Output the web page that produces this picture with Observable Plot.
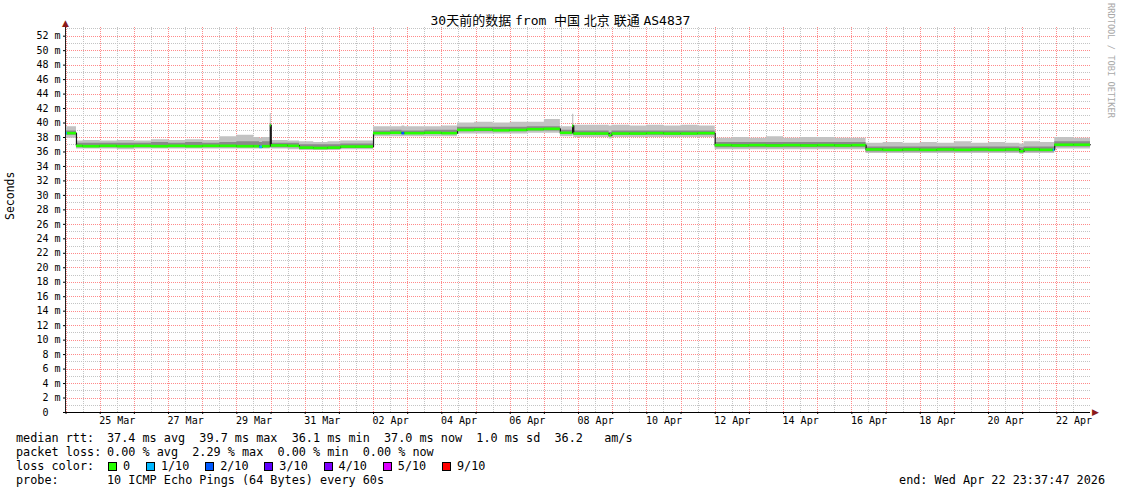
<!DOCTYPE html>
<html><head><meta charset="utf-8">
<script src="https://cdn.jsdelivr.net/npm/d3@7"></script>
<script src="https://cdn.jsdelivr.net/npm/@observablehq/plot@0.6"></script>
<style>
body{margin:0;background:#fff;font-family:"DejaVu Sans Mono","Noto Sans CJK SC",monospace;color:#000;}
#wrap{position:relative;width:1121px;height:494px;overflow:hidden;background:#fff;}
#chart{position:absolute;left:0;top:0;}
#title{position:absolute;left:0;top:13px;width:1121px;text-align:center;font-size:13px;line-height:16px;white-space:pre;word-spacing:-4px;font-family:"DejaVu Sans Mono","Noto Sans CJK SC",monospace;}
#legend{position:absolute;left:16px;top:431px;width:1089px;font-size:11.8px;line-height:14px;white-space:pre;}
#legend .row{height:14px;position:relative;}
#legend .lab{display:inline-block;width:91px;}
#legend .box{display:inline-block;width:7px;height:7px;border:1px solid #000;vertical-align:-1px;margin-right:6px;}
#legend .item{display:inline-block;margin-right:15.8px;}
#legend .first{margin-left:1px;}
#end{position:absolute;right:0;top:0;}
</style>
</head><body>
<div id="wrap">
  <div id="chart"></div>
  <div id="title"></div>
  <div id="legend"></div>
</div>
<script>
// ---- data ----
const titleText = "30天前的数据 from  中国 北京 联通 AS4837";
const startTime = "2026-03-23T23:37:47";
const endTime = "2026-04-22T23:37:47";

const times = [
 "2026-03-23T23:37","2026-03-24T01:00","2026-03-24T07:20","2026-03-24T12:00","2026-03-25T00:00",
 "2026-03-25T12:00","2026-03-26T00:00","2026-03-26T12:00","2026-03-27T00:00","2026-03-27T12:00",
 "2026-03-28T00:00","2026-03-28T12:00","2026-03-29T00:00","2026-03-29T12:00","2026-03-29T16:00",
 "2026-03-29T18:00","2026-03-29T23:30","2026-03-30T00:10","2026-03-30T12:00","2026-03-30T20:00",
 "2026-03-31T06:00","2026-03-31T16:00","2026-04-01T01:00","2026-04-01T12:00","2026-04-02T00:00",
 "2026-04-02T12:00","2026-04-02T20:00","2026-04-02T22:00","2026-04-03T12:00","2026-04-04T00:00",
 "2026-04-04T11:00","2026-04-04T23:00","2026-04-05T12:00","2026-04-06T00:00","2026-04-06T12:00",
 "2026-04-07T00:00","2026-04-07T11:15","2026-04-07T19:50","2026-04-07T20:40","2026-04-08T12:00",
 "2026-04-08T21:30","2026-04-08T23:30","2026-04-09T12:00","2026-04-10T00:00","2026-04-10T12:00",
 "2026-04-11T00:00","2026-04-11T12:00","2026-04-12T00:00","2026-04-12T12:00","2026-04-13T00:00",
 "2026-04-13T12:00","2026-04-14T00:00","2026-04-14T12:00","2026-04-15T00:00","2026-04-15T12:00",
 "2026-04-16T00:00","2026-04-16T10:00","2026-04-16T22:00","2026-04-17T12:00","2026-04-18T00:00",
 "2026-04-18T12:00","2026-04-19T00:00","2026-04-19T12:00","2026-04-20T00:00","2026-04-20T12:00",
 "2026-04-20T22:00","2026-04-21T01:00","2026-04-21T12:00","2026-04-21T21:30","2026-04-21T22:30",
 "2026-04-22T12:00"
];
const median = [
 38.6,38.6,36.85,36.8,36.85, 36.8,36.85,36.8,36.85,36.8,
 36.85,36.85,36.8,36.8,36.7, 36.8,39.7,36.9,36.85,36.6,
 36.55,36.6,36.75,36.75,38.6, 38.65,38.6,38.6,38.65,38.6,
 39.05,39.1,39.0,39.05,39.15, 39.2,38.65,39.6,38.55,38.55,
 38.3,38.55,38.55,38.6,38.55, 38.55,38.6,36.95,36.9,36.95,
 36.9,36.95,36.9,36.95,36.9, 36.95,36.35,36.3,36.35,36.3,
 36.35,36.3,36.35,36.3,36.35, 36.1,36.35,36.3,36.3,37.0,
 37.0
];
const smokeMin = [
 37.9,37.9,36.4,36.4,36.4, 36.3,36.4,36.4,36.4,36.4,
 36.4,36.4,36.4,36.4,36.4, 36.4,36.5,36.4,36.3,36.2,
 36.2,36.2,36.3,36.3,38.1, 38.1,38.1,38.1,38.1,38.1,
 38.5,38.5,38.5,38.5,38.6, 38.6,38.1,38.2,38.0,38.0,
 37.8,38.0,38.0,38.0,38.0, 38.0,38.0,36.3,36.3,36.3,
 36.3,36.3,36.3,36.3,36.3, 36.3,35.8,35.8,35.8,35.8,
 35.8,35.8,35.8,35.8,35.8, 35.7,35.8,35.8,35.8,36.4,
 36.4
];
const coreLow = [
 38.3,38.3,36.6,36.6,36.6, 36.6,36.6,36.6,36.6,36.6,
 36.6,36.6,36.6,36.6,36.6, 36.6,37.0,36.6,36.6,36.4,
 36.4,36.4,36.5,36.5,38.4, 38.4,38.4,38.4,38.4,38.4,
 38.8,38.8,38.8,38.8,38.9, 38.9,38.4,38.6,38.3,38.3,
 38.1,38.3,38.3,38.3,38.3, 38.3,38.3,36.6,36.6,36.6,
 36.6,36.6,36.6,36.6,36.6, 36.6,36.0,36.0,36.0,36.0,
 36.0,36.0,36.0,36.0,36.0, 35.9,36.0,36.0,36.0,36.7,
 36.7
];
const coreHigh = [
 38.9,38.9,37.2,37.2,37.2, 37.2,37.2,37.3,37.2,37.3,
 37.2,37.3,37.4,37.4,37.3, 37.4,39.9,37.2,37.2,37.0,
 37.0,37.0,37.1,37.1,38.9, 39.0,38.9,38.9,39.0,39.0,
 39.4,39.4,39.4,39.4,39.5, 39.5,39.0,39.7,38.9,38.9,
 38.7,38.9,38.9,38.9,38.9, 38.9,38.9,37.3,37.3,37.3,
 37.3,37.3,37.3,37.3,37.3, 37.3,36.7,36.7,36.7,36.7,
 36.7,36.7,36.7,36.7,36.7, 36.6,36.7,36.7,36.7,37.4,
 37.4
];
const smokeMax = [
 39.5,39.5,37.5,37.6,37.5, 37.6,37.5,37.7,37.6,37.7,
 37.6,38.1,38.3,38.0,37.9, 38.0,41.3,37.6,37.5,37.4,
 37.3,37.4,37.5,37.5,39.5, 39.5,39.6,39.5,39.5,39.6,
 40.0,40.1,40.0,40.1,40.1, 40.5,39.5,41.2,39.7,39.7,
 39.6,39.7,39.6,39.7,39.6, 39.7,39.6,37.9,38.0,37.9,
 38.1,37.9,38.0,38.0,37.9, 37.9,37.2,37.3,37.2,37.3,
 37.2,37.4,37.2,37.3,37.2, 37.1,37.4,37.3,37.3,38.0,
 37.9
];
const lossIdx = [
 1,0,0,0,0, 0,0,0,0,0,
 0,0,0,0,1, 0,0,0,0,0,
 0,0,0,0,0, 0,2,0,0,0,
 0,0,0,0,0, 0,0,0,0,0,
 0,0,0,0,0, 0,0,0,0,0,
 0,0,0,0,0, 0,0,0,0,0,
 0,0,0,0,0, 0,0,0,1,0,
 0
];
const lossLabels = ["0","1/10","2/10","3/10","4/10","5/10","9/10"];
const lossColors = ["#26ff00","#00b8ff","#0059ff","#5e00ff","#7e00ff","#dd00ff","#ff0000"];

const xTickLabels = ["25 Mar","27 Mar","29 Mar","31 Mar","02 Apr","04 Apr","06 Apr","08 Apr","10 Apr","12 Apr","14 Apr","16 Apr","18 Apr","20 Apr","22 Apr"];
const xTickTimes = ["2026-03-25T12:00","2026-03-27T12:00","2026-03-29T12:00","2026-03-31T12:00","2026-04-02T12:00","2026-04-04T12:00","2026-04-06T12:00","2026-04-08T12:00","2026-04-10T12:00","2026-04-12T12:00","2026-04-14T12:00","2026-04-16T12:00","2026-04-18T12:00","2026-04-20T12:00","2026-04-22T12:00"];

const rttStats = ["37.4 ms avg","39.7 ms max","36.1 ms min","37.0 ms now","1.0 ms sd","36.2   am/s"];
const lossStats = ["0.00 % avg","2.29 % max","0.00 % min","0.00 % now"];
const probeText = "10 ICMP Echo Pings (64 Bytes) every 60s";
const endText = "end: Wed Apr 22 23:37:47 2026";
const yLabel = "Seconds";
const credit = "RRDTOOL / TOBI OETIKER";

// ---- build ----
const utc = s => new Date(s + "Z");
const start = utc(startTime), end = utc(endTime);
const rows = times.map((t, i) => ({
  t: utc(t),
  t2: i + 1 < times.length ? utc(times[i + 1]) : end,
  med: median[i], lo: smokeMin[i], hi: smokeMax[i], clo: coreLow[i], chi: coreHigh[i], loss: lossIdx[i]
}));
const stepRows = [...rows, {...rows[rows.length - 1], t: end}];

const yMax = 53.2;
const yMajor = d3.range(0, 53, 2);
const yMinor = d3.range(1, 54, 2);
const hours12 = d3.utcHour.every(12).range(start, end);
const dayLines = hours12.filter(d => d.getUTCHours() === 0);
const halfLines = hours12.filter(d => d.getUTCHours() === 12);
const tickMap = new Map(xTickTimes.map((t, i) => [+utc(t), xTickLabels[i]]));

const minorC = "#c4c4c4", majorC = "#ff8a8a", arrowC = "#8b1a1a";
const gridOpts = c => ({stroke: c, strokeDasharray: "1,1", shapeRendering: "crispEdges"});

const chart = Plot.plot({
  width: 1121, height: 430,
  marginLeft: 65, marginRight: 31, marginTop: 27, marginBottom: 18,
  style: {fontFamily: "DejaVu Sans Mono, monospace", fontSize: "10px", background: "transparent"},
  x: {type: "utc", domain: [start, end]},
  y: {domain: [0, yMax]},
  marks: [
    Plot.ruleY(yMinor.filter(v => v < yMax), gridOpts(minorC)),
    Plot.ruleX(halfLines, gridOpts(minorC)),
    Plot.ruleY(yMajor.filter(v => v > 0), gridOpts(majorC)),
    Plot.ruleX(dayLines, gridOpts(majorC)),
    Plot.areaY(stepRows, {x: "t", y1: "lo", y2: "hi", curve: "step-after", fill: "#c2c2c2"}),
    Plot.areaY(stepRows, {x: "t", y1: "clo", y2: "chi", curve: "step-after", fill: "#8a8a8a"}),
    Plot.line(stepRows, {x: "t", y: "med", curve: "step-after", stroke: "#1a1a1a", strokeWidth: 1.2}),
    Plot.ruleY(rows, {y: "med", x1: "t", x2: "t2", stroke: d => lossColors[d.loss], strokeWidth: 2.6}),
    Plot.axisY(yMajor, {tickSize: 2, tickPadding: 3, tickFormat: v => v === 0 ? "0\u00a0\u00a0" : v + "\u00a0m", label: null}),
    Plot.axisX(dayLines, {tickSize: 2, tickFormat: () => "", label: null}),
    Plot.axisX(xTickTimes.map(utc), {tickSize: 0, tickPadding: 4, tickFormat: d => tickMap.get(+d), label: null}),
    Plot.ruleY([0], {stroke: "#000"}),
    Plot.ruleX([start], {stroke: "#222", y1: 0, y2: yMax}),
    Plot.text([end], {x: d => d, y: () => 0, text: () => "\u25B6", dx: 5, fill: arrowC, fontSize: 9, fontFamily: "DejaVu Sans"}),
    Plot.text([start], {x: d => d, y: () => yMax, text: () => "\u25B2", dy: -4, fill: arrowC, fontSize: 9, fontFamily: "DejaVu Sans"}),
    Plot.text([yLabel], {frameAnchor: "left", rotate: -90, dx: -55, fontSize: 11.5}),
    Plot.text([credit], {frameAnchor: "top-right", rotate: 90, dx: 20, dy: 33, textAnchor: "middle", lineAnchor: "middle", fontSize: 8.7, fill: "#a8a8a8"})
  ]
});
document.getElementById("chart").appendChild(chart);
document.getElementById("title").textContent = titleText;

// ---- legend ----
const lg = document.getElementById("legend");
function row(label) {
  const r = document.createElement("div"); r.className = "row";
  const l = document.createElement("span"); l.className = "lab"; l.textContent = label; r.appendChild(l);
  lg.appendChild(r); return r;
}
row("median rtt:").appendChild(document.createTextNode(rttStats.join("  ")));
row("packet loss:").appendChild(document.createTextNode(lossStats.join("  ")));
const lr = row("loss color:");
lossLabels.forEach((lab, i) => {
  const it = document.createElement("span"); it.className = "item" + (i === 0 ? " first" : "");
  const b = document.createElement("span"); b.className = "box"; b.style.background = lossColors[i];
  it.appendChild(b); it.appendChild(document.createTextNode(lab)); lr.appendChild(it);
});
const pr = row("probe:");
pr.appendChild(document.createTextNode(probeText));
const e = document.createElement("span"); e.id = "end"; e.textContent = endText;
pr.appendChild(e);
</script>
</body></html>
